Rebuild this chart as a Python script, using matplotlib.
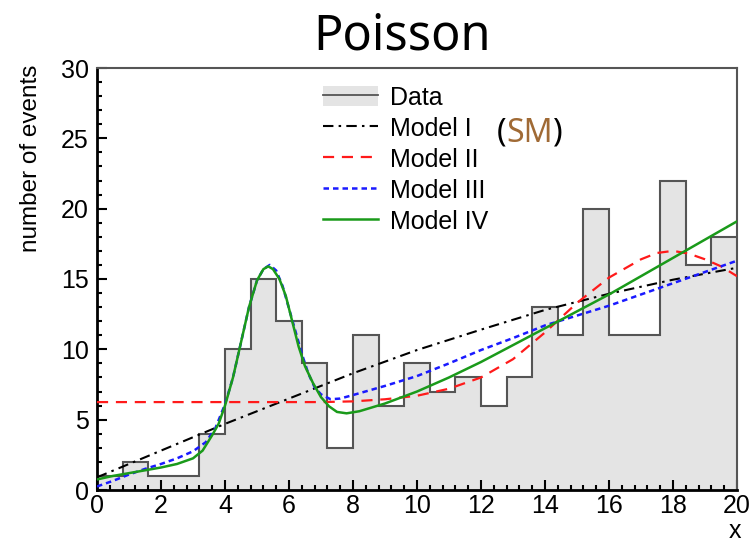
import matplotlib
matplotlib.use('Agg')
import matplotlib.pyplot as plt
import numpy as np
from matplotlib.patches import Patch
from matplotlib.lines import Line2D
from matplotlib.ticker import MultipleLocator

# histogram data: 25 bins of width 0.8 on [0, 20]
counts = [1, 2, 1, 1, 4, 10, 15, 12, 9, 3, 11, 6, 9, 7, 8, 6, 8, 13, 11, 20, 11, 11, 22, 16, 18]
bin_edges = np.linspace(0, 20, len(counts) + 1)

# model curves
m1_x = [0, 2, 4, 6, 8, 10, 12, 14, 16, 18, 20]
m1_y = [0.9, 2.8, 4.7, 6.5, 8.3, 9.95, 11.4, 12.8, 13.95, 14.95, 15.8]

m2_x = [0, 7, 8, 9, 10, 11, 12, 13, 14, 15, 16, 17, 17.5, 18, 18.5, 19, 19.5, 20]
m2_y = [6.25, 6.25, 6.3, 6.45, 6.7, 7.2, 8.0, 9.3, 11.2, 13.3, 15.1, 16.4, 16.85, 17.0, 16.8, 16.4, 15.9, 15.2]

m3_x = [0, 0.5, 1, 1.5, 2, 2.5, 3, 3.4, 3.7, 4.0, 4.25, 4.5, 4.75, 5.0, 5.2, 5.4, 5.6, 5.8, 6.0,
        6.2, 6.4, 6.6, 6.8, 7.0, 7.3, 7.6, 8, 9, 10, 11, 12, 13, 14, 15, 16, 17, 18, 19, 20]
m3_y = [0.25, 0.65, 1.1, 1.5, 1.85, 2.25, 2.75, 3.4, 4.4, 6.1, 8.0, 10.5, 13.0, 14.9, 15.7, 16.0, 15.6, 14.5, 12.9,
        11.3, 9.7, 8.3, 7.3, 6.8, 6.45, 6.5, 6.75, 7.4, 8.1, 9.0, 9.95, 10.8, 11.7, 12.4, 13.1, 13.9, 14.7, 15.5, 16.3]

m4_x = [0, 0.5, 1, 1.5, 2, 2.5, 3, 3.3, 3.6, 3.8, 4.0, 4.25, 4.5, 4.75, 5.0, 5.2, 5.35, 5.5, 5.7, 5.9, 6.1,
        6.3, 6.5, 6.75, 7.0, 7.25, 7.5, 7.8, 8.2, 9, 10, 11, 12, 13, 14, 15, 16, 17, 18, 19, 20]
m4_y = [0.75, 1.0, 1.2, 1.4, 1.6, 1.85, 2.25, 2.8, 3.9, 4.7, 6.0, 8.0, 10.5, 13.0, 14.9, 15.7, 15.9, 15.7, 15.0, 13.8, 12.0,
        10.2, 8.8, 7.6, 6.6, 5.95, 5.55, 5.45, 5.6, 6.15, 7.0, 8.0, 9.1, 10.3, 11.5, 12.7, 13.9, 15.2, 16.5, 17.8, 19.1]

labels = ['Data', 'Model I', 'Model II', 'Model III', 'Model IV']

plt.rcParams['font.family'] = ['Liberation Sans', 'DejaVu Sans']

fig = plt.figure(figsize=(7.52, 5.45), dpi=100)
ax = fig.add_axes([97 / 752, 1 - 490 / 545, 640 / 752, 422 / 545])

fill_col = '#e4e4e4'
edge_col = '#555555'
ax.stairs(counts, bin_edges, fill=True, color=fill_col, zorder=1)
ax.stairs(counts, bin_edges, fill=False, color=edge_col, lw=1.5, baseline=None, zorder=2)

ax.plot(m1_x, m1_y, color='black', lw=1.5, dashes=(5, 2.5, 1.2, 2.5), zorder=3)
ax.plot(m2_x, m2_y, color='#ff1a1a', lw=1.6, dashes=(5, 3.5), zorder=3)
ax.plot(m3_x, m3_y, color='#1a1aff', lw=1.8, dashes=(2.2, 1.6), zorder=3)
ax.plot(m4_x, m4_y, color='#1a9a1a', lw=1.8, zorder=4)

ax.set_xlim(0, 20)
ax.set_ylim(0, 30)
ax.xaxis.set_major_locator(MultipleLocator(2))
ax.xaxis.set_minor_locator(MultipleLocator(0.4))
ax.yaxis.set_major_locator(MultipleLocator(5))
ax.yaxis.set_minor_locator(MultipleLocator(1))
ax.tick_params(which='both', direction='in', width=1.5, labelsize=18, top=False, right=False)
ax.tick_params(which='major', length=7)
ax.tick_params(which='minor', length=3.6)
ax.tick_params(axis='x', pad=3)
ax.tick_params(axis='y', pad=6)

for s in ['left', 'bottom']:
    ax.spines[s].set_linewidth(2)
    ax.spines[s].set_color('black')
for s in ['top', 'right']:
    ax.spines[s].set_linewidth(1.5)
    ax.spines[s].set_color('#555555')

# legend
handles = [
    (Patch(facecolor=fill_col, edgecolor='none'), Line2D([], [], color=edge_col, lw=1.3)),
    Line2D([], [], color='black', lw=1.5, dashes=(5, 2.5, 1.2, 2.5)),
    Line2D([], [], color='#ff1a1a', lw=1.6, dashes=(5, 3.5)),
    Line2D([], [], color='#1a1aff', lw=1.8, dashes=(2.2, 1.6)),
    Line2D([], [], color='#1a9a1a', lw=1.8),
]
ax.legend(handles, labels, loc='upper left', bbox_to_anchor=(0.353, 0.958), frameon=False,
          fontsize=18, handlelength=2.2, handleheight=0.9, handletextpad=0.5, labelspacing=0.28,
          borderaxespad=0, borderpad=0)

# (SM) annotation
t1 = ax.text(0.625, 0.806, '(', transform=ax.transAxes, fontsize=23, family='Noto Sans', va='bottom', color='black')
t2 = ax.annotate('SM', xy=(1, 0), xycoords=t1, fontsize=23, family='Noto Sans', va='bottom', color='#a06a35')
ax.annotate(')', xy=(1, 0), xycoords=t2, fontsize=23, family='Noto Sans', va='bottom', color='black')

ax.text(-0.103, 1.007, 'number of events', transform=ax.transAxes, rotation=90, ha='center', va='top', fontsize=17.5)
fig.text(0.977, 0.025, 'x', ha='center', va='center', fontsize=18)
fig.text(0.534, 0.91, 'Poisson', ha='center', va='baseline', fontsize=35, family='Noto Sans')

fig.savefig('out.png', dpi=100)
